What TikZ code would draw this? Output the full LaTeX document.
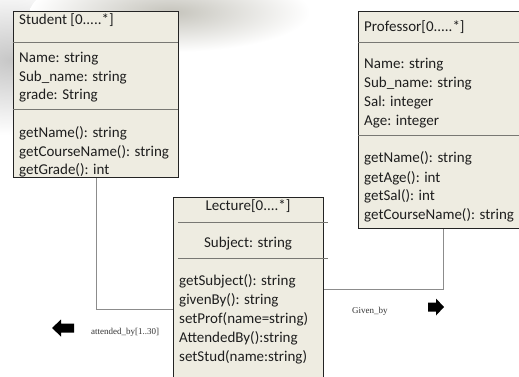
\documentclass[tikz,border=0pt]{standalone}
\usepackage{fontspec}
\setmainfont{Carlito}
\newfontfamily\labelfont{Liberation Serif}
\definecolor{boxfill}{RGB}{238,236,225}
\definecolor{boxedge}{RGB}{35,35,35}
\definecolor{divline}{RGB}{120,120,115}
\definecolor{connline}{RGB}{140,140,140}
\definecolor{txt}{RGB}{30,30,30}
\tikzset{
  umlbox/.style={draw=boxedge, line width=1.3pt, fill=boxfill, anchor=north west, inner sep=0pt},
  divider/.style={draw=divline, line width=0.9pt},
  conn/.style={draw=connline, line width=0.9pt},
  ln/.style={anchor=base west, inner sep=0pt, text=txt, font=\fontsize{15}{18}\selectfont},
  lnc/.style={anchor=base, inner sep=0pt, text=txt, font=\fontsize{15}{18}\selectfont},
  lbl/.style={anchor=base west, inner sep=0pt, text=black!80, font=\labelfont\fontsize{9}{10}\selectfont},
  blockarrow/.style={fill=black}
}
\begin{document}
\begin{tikzpicture}[x=1pt, y=-1pt]
\useasboundingbox (0,0) rectangle (519,376);
\clip (0,0) rectangle (519,376);
\fill[white] (0,0) rectangle (519,376);
% faint background smudge
\shade[inner color=black!22, outer color=white] (10,60) ellipse [x radius=110, y radius=75];
\shade[inner color=boxfill!80!black!90, outer color=white] (170,12) ellipse [x radius=140, y radius=40];
% Student
\node[umlbox, minimum width=165pt, minimum height=166pt] (student) at (12.7,11) {};
\draw[divider] (12.7,42) -- (178,42);
\draw[divider] (12.7,109) -- (178,109);
\node[ln] (s0) at (19,24) {Student [0.....*]};
\node[ln] (s1) at (19,62) {Name: string};
\node[ln] (s2) at (19,81) {Sub\_name: string};
\node[ln] (s3) at (19,99) {grade: String};
\node[ln] (s4) at (19,137) {getName(): string};
\node[ln] (s5) at (19,156) {getCourseName(): string};
\node[ln] (s6) at (19,174) {getGrade(): int};
% Professor
\node[umlbox, minimum width=165pt, minimum height=217pt] (prof) at (358,11) {};
\draw[divider] (358,42) -- (521,42);
\draw[divider] (358,135) -- (521,135);
\node[ln] (p0) at (364,31) {Professor[0.....*]};
\node[ln] (p1) at (364,68) {Name: string};
\node[ln] (p2) at (364,87) {Sub\_name: string};
\node[ln] (p3) at (364,106) {Sal: integer};
\node[ln] (p4) at (364,125) {Age: integer};
\node[ln] (p5) at (364,162) {getName(): string};
\node[ln] (p6) at (364,182) {getAge(): int};
\node[ln] (p7) at (364,200) {getSal(): int};
\node[ln] (p8) at (364,219) {getCourseName(): string};
% Lecture
\node[umlbox, minimum width=150pt, minimum height=200pt] (lecture) at (173,197) {};
\draw[divider] (178,222) -- (328,222);
\draw[divider] (178,258) -- (328,258);
\node[lnc] (l0) at (248,210) {Lecture[0....*]};
\node[lnc] (l1) at (248,247) {Subject: string};
\node[ln] (l2) at (179,285) {getSubject(): string};
\node[ln] (l3) at (179,304) {givenBy(): string};
\node[ln] (l4) at (179,323) {setProf(name=string)};
\node[ln] (l5) at (179,342) {AttendedBy():string};
\node[ln] (l6) at (179,361) {setStud(name:string)};
% connectors
\coordinate (sdown) at ([xshift=83.3pt]student.south west);
\coordinate (sbend) at (96,309);
\draw[conn] (sdown) -- (sbend) -- (lecture.west |- sbend);
\coordinate (pdown) at ([xshift=85pt]prof.south west);
\coordinate (pbend) at (443,289);
\draw[conn] (pdown) -- (pbend) -- (lecture.east |- pbend);
% labels
\node[lbl] (att) at (91,334) {attended\_by[1..30]};
\node[lbl] (giv) at (352,313) {Given\_by};
% block arrows
\fill[blockarrow] (52,328) -- (61,319.5) -- (61,323.5) -- (74,323.5) -- (74,332.5) -- (61,332.5) -- (61,336.5) -- cycle;
\fill[blockarrow] (444,307) -- (436,298.5) -- (436,302.5) -- (428,302.5) -- (428,311.5) -- (436,311.5) -- (436,315.5) -- cycle;
\end{tikzpicture}
\end{document}
